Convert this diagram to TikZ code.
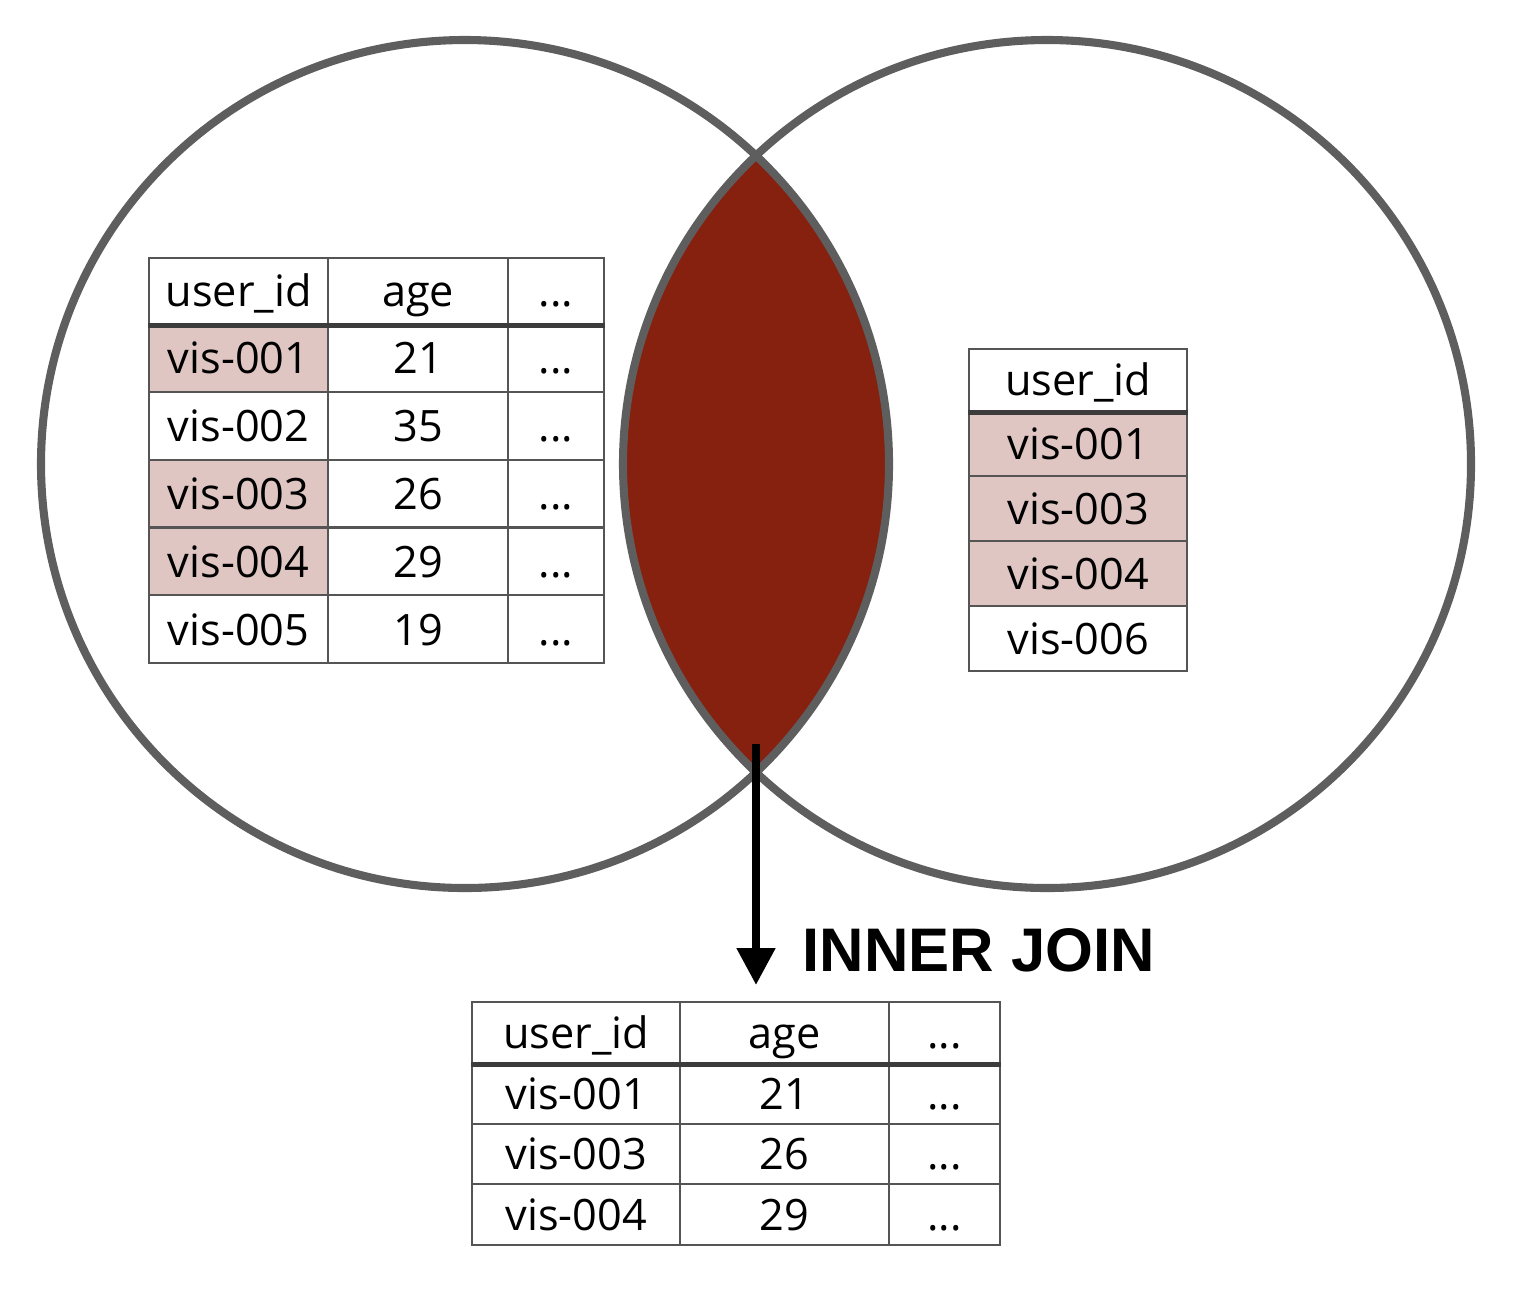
\documentclass[tikz,border=0pt]{standalone}
\usepackage{fontspec}
\setmainfont{Open Sans}
\setsansfont{Liberation Sans}
\usetikzlibrary{arrows.meta}
\definecolor{ringgray}{HTML}{5E5E5E}
\definecolor{lensred}{HTML}{86200F}
\definecolor{hitpink}{HTML}{E0C6C3}
\definecolor{gridgray}{HTML}{555555}
\begin{document}
\begin{tikzpicture}[
            x=0.01cm, y=-0.01cm,
            ring/.style={draw=ringgray, line width=2.3pt},
            cell/.style={draw=gridgray, line width=0.6pt, inner sep=0pt, anchor=north west,
                    text height=0.9em, text depth=0pt, font=\fontsize{12.3}{13}\selectfont},
            hit/.style={fill=hitpink},
            nohit/.style={fill=white},
            headrule/.style={draw=gridgray!70!black, line width=1.4pt}
        ]
        \useasboundingbox (0,0) rectangle (1522,1290);
        \coordinate (lc) at (465,464);
        \coordinate (rc) at (1047,464);
        % lens
        \begin{scope}
            \clip (lc) circle [radius=424];
            \fill[lensred] (rc) circle [radius=424];
        \end{scope}
        \draw[ring] (lc) circle [radius=424];
        \draw[ring] (rc) circle [radius=424];

        % left table
        \node[cell, nohit, minimum width=1.79cm, minimum height=0.66cm] (lh1) at (148,257) {user\_id};
        \node[cell, nohit, minimum width=1.80cm, minimum height=0.66cm] (lh2) at (327,257) {age};
        \node[cell, nohit, minimum width=0.96cm, minimum height=0.66cm] (lh3) at (507,257) {...};
        \foreach \uid/\age/\sty [count=\r] in {vis-001/21/hit, vis-002/35/nohit, vis-003/26/hit, vis-004/29/hit, vis-005/19/nohit} {
                \node[cell, \sty, minimum width=1.79cm, minimum height=0.678cm] (l\r a) at (148,{323+67.8*(\r-1)}) {\uid};
                \node[cell, nohit, minimum width=1.80cm, minimum height=0.678cm] (l\r b) at (327,{323+67.8*(\r-1)}) {\age};
                \node[cell, nohit, minimum width=0.96cm, minimum height=0.678cm] (l\r c) at (507,{323+67.8*(\r-1)}) {...};
            }
        \draw[headrule] (lh1.south west) -- (lh3.south east);

        % right table
        \node[cell, nohit, minimum width=2.18cm, minimum height=0.62cm] (rh1) at (968,348) {user\_id};
        \foreach \uid/\sty [count=\r] in {vis-001/hit, vis-003/hit, vis-004/hit, vis-006/nohit} {
                \node[cell, \sty, minimum width=2.18cm, minimum height=0.65cm] (r\r a) at (968,{410+65*(\r-1)}) {\uid};
            }
        \draw[headrule] (rh1.south west) -- (rh1.south east);

        % joined table
        \node[cell, nohit, minimum width=2.08cm, minimum height=0.61cm] (jh1) at (471,1001) {user\_id};
        \node[cell, nohit, minimum width=2.09cm, minimum height=0.61cm] (jh2) at (679,1001) {age};
        \node[cell, nohit, minimum width=1.11cm, minimum height=0.61cm] (jh3) at (888,1001) {...};
        \foreach \uid/\age [count=\r] in {vis-001/21, vis-003/26, vis-004/29} {
                \node[cell, nohit, minimum width=2.08cm, minimum height=0.605cm] (j\r a) at (471,{1062+60.5*(\r-1)}) {\uid};
                \node[cell, nohit, minimum width=2.09cm, minimum height=0.605cm] (j\r b) at (679,{1062+60.5*(\r-1)}) {\age};
                \node[cell, nohit, minimum width=1.11cm, minimum height=0.605cm] (j\r c) at (888,{1062+60.5*(\r-1)}) {...};
            }
        \draw[headrule] (jh1.south west) -- (jh3.south east);

        % arrow and label
        \coordinate (jtop) at (756,744);
        \coordinate (jend) at (756,985);
        \draw[line width=2.3pt, -{Triangle[length=0.37cm, width=0.37cm]}] (jtop) -- (jend);
        \node[inner sep=0pt, anchor=west, font=\sffamily\bfseries\fontsize{17.5}{18}\selectfont] (joinlbl) at (802,950) {INNER JOIN};
    \end{tikzpicture}
\end{document}
